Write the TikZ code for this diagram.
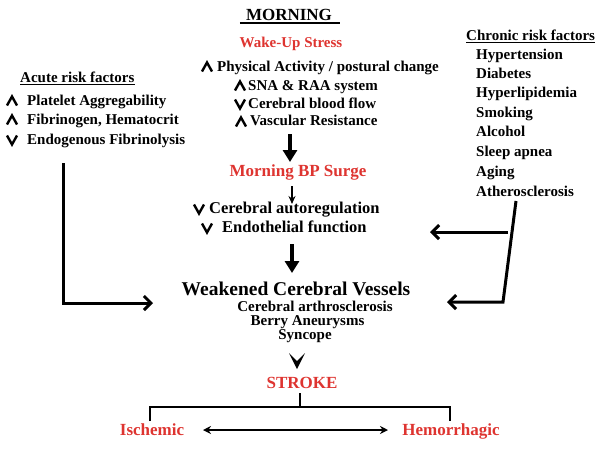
\documentclass[tikz,border=0pt]{standalone}
\usepackage{fontspec}
\setmainfont{Liberation Serif}
\usetikzlibrary{arrows.meta}
\definecolor{redtxt}{RGB}{222,52,48}
\begin{document}
\begin{tikzpicture}[x=1pt,y=-1pt,
  txt/.style={font=\bfseries\fontsize{15}{15}\selectfont, inner sep=0pt},
  bigtxt/.style={font=\bfseries\fontsize{16.5}{16.5}\selectfont, inner sep=0pt},
  redt/.style={font=\bfseries\fontsize{17}{17}\selectfont, inner sep=0pt, text=redtxt},
  chev/.style={line width=2.4pt, line join=miter, line cap=butt},
  fatarrow/.style={line width=4pt, -{Triangle[width=14pt,length=12pt]}},
  thinarrow/.style={line width=1.6pt, -{Stealth[length=8pt,width=7pt]}},
  sidearrow/.style={line width=3pt, line join=miter, -{Straight Barb[length=7pt,width=14pt]}},
  upm/.pic={\draw[chev] (-5,4.5)--(0,-4.5)--(5,4.5);},
  dnm/.pic={\draw[chev] (-5,-4.5)--(0,4.5)--(5,-4.5);}
]
\useasboundingbox (0,0) rectangle (600,448);

% title
\node[font=\bfseries\fontsize{17}{17}\selectfont, inner sep=0pt, anchor=mid] (morning) at (289,18) {MORNING};
\draw[line width=1.6pt] ([xshift=-6pt,yshift=-3pt]morning.base west) -- ([xshift=8pt,yshift=-3pt]morning.base east);
\node[redt, font=\bfseries\fontsize{15}{15}\selectfont, anchor=mid] (wake) at (291,45) {Wake-Up Stress};

% wake-up list
\node[txt, anchor=mid west] (phys) at (217,69) {Physical Activity / postural change};
\node[txt, anchor=mid west] (sna) at (248,88) {SNA \& RAA system};
\node[txt, anchor=mid west] (cbf) at (248,106) {Cerebral blood flow};
\node[txt, anchor=mid west] (vasc) at (250,123) {Vascular Resistance};
\pic at (207,67) {upm};
\pic at (240,86) {upm};
\pic at (240,104) {dnm};
\pic at (241,122) {upm};

% acute
\node[txt, anchor=mid west] (acute) at (20,80) {Acute risk factors};
\draw[line width=1.2pt] ([yshift=-2.5pt]acute.base west) -- ([yshift=-2.5pt]acute.base east);
\node[txt, anchor=mid west] (plat) at (27,103) {Platelet Aggregability};
\node[txt, anchor=mid west] (fib) at (27,122) {Fibrinogen, Hematocrit};
\node[txt, anchor=mid west] (endo) at (27,142) {Endogenous Fibrinolysis};
\pic at (12,101) {upm};
\pic at (12,120) {upm};
\pic at (12,140) {dnm};

% chronic
\node[txt, anchor=mid west] (chron) at (466,38) {Chronic risk factors};
\draw[line width=1.2pt] ([yshift=-2.5pt]chron.base west) -- ([yshift=-2.5pt]chron.base east);
\node[txt, anchor=mid west] (c1) at (476,57) {Hypertension};
\node[txt, anchor=mid west] (c2) at (476,76) {Diabetes};
\node[txt, anchor=mid west] (c3) at (476,95) {Hyperlipidemia};
\node[txt, anchor=mid west] (c4) at (476,115) {Smoking};
\node[txt, anchor=mid west] (c5) at (476,134) {Alcohol};
\node[txt, anchor=mid west] (c6) at (476,154) {Sleep apnea};
\node[txt, anchor=mid west] (c7) at (476,174) {Aging};
\node[txt, anchor=mid west] (c8) at (476,194) {Atherosclerosis};

% main chain
\coordinate (a1s) at (290,134);
\coordinate (a1e) at (290,162);
\draw[fatarrow] (a1s) -- (a1e);
\node[redt, anchor=mid] (surge) at (298,174) {Morning BP Surge};
\coordinate (a2s) at (292,186);
\coordinate (a2e) at (292,204);
\draw[thinarrow] (a2s) -- (a2e);
\node[bigtxt, anchor=mid west] (auto) at (209,211) {Cerebral autoregulation};
\node[bigtxt, anchor=mid west] (endf) at (222,230) {Endothelial function};
\pic at (199,209) {dnm};
\pic at (207,228) {dnm};
\coordinate (a3s) at (292,244);
\coordinate (a3e) at (292,273);
\draw[fatarrow] (a3s) -- (a3e);

\node[font=\bfseries\fontsize{19.5}{19.5}\selectfont, inner sep=0pt, anchor=mid] (weak) at (296,293) {Weakened Cerebral Vessels};
\node[txt, anchor=mid] (arth) at (315,309) {Cerebral arthrosclerosis};
\node[txt, anchor=mid] (berry) at (307.5,323) {Berry Aneurysms};
\node[txt, anchor=mid] (sync) at (305,337) {Syncope};

\coordinate (vtip) at (297,369);
\fill (289,353) -- (vtip) -- (305,353) -- (297,361) -- cycle;

\node[redt, anchor=mid] (stroke) at (302,386) {STROKE};
\node[redt, anchor=mid] (isch) at (152,433) {Ischemic};
\node[redt, anchor=mid] (hem) at (451,433) {Hemorrhagic};
\coordinate (st) at (300,393);
\coordinate (bar) at (300,407);
\coordinate (bl) at (150,421);
\coordinate (br) at (450,421);
\draw[line width=2pt] (st) -- (bar);
\draw[line width=2pt] (bl) |- (bar) -| (br);
\coordinate (dl) at (203,430);
\coordinate (dr) at (388,430);
\draw[line width=1.6pt, {Stealth[length=8pt,width=8pt]}-{Stealth[length=8pt,width=8pt]}] (dl) -- (dr);

% side connectors
\coordinate (ltop) at (63,163);
\coordinate (lend) at (153,303);
\draw[sidearrow] (ltop) |- (lend);
\coordinate (rtop) at (516,201);
\coordinate (rcorner) at (503,302);
\coordinate (rend) at (447,302);
\draw[sidearrow] (rtop) -- (rcorner) -- (rend);
\coordinate (rus) at (508,232);
\coordinate (rue) at (430,232);
\draw[sidearrow] (rus) -- (rue);
\end{tikzpicture}
\end{document}
